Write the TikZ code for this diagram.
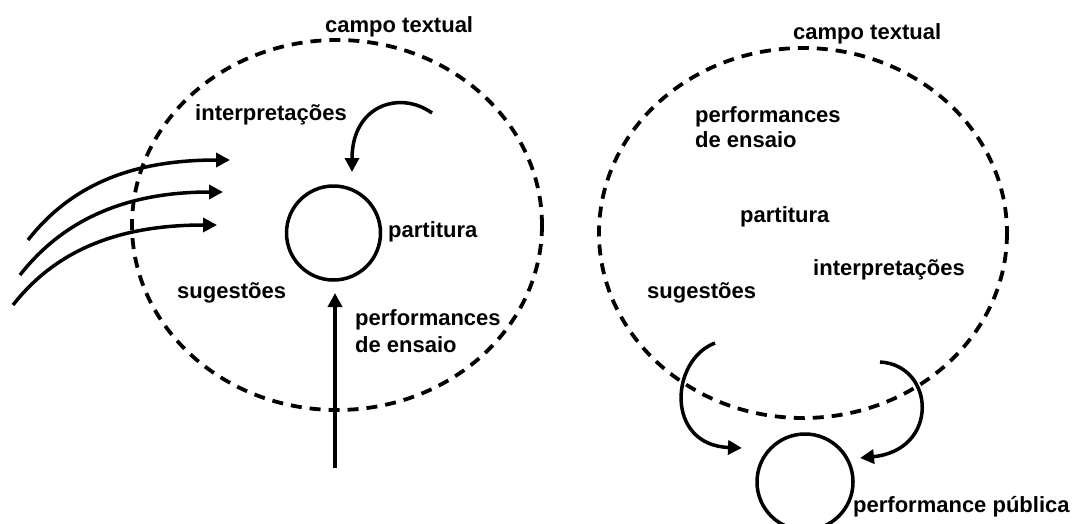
\documentclass[tikz,border=0pt]{standalone}
\usepackage{fontspec}
\setmainfont{Liberation Sans}
\usetikzlibrary{arrows.meta}
\begin{document}
\begin{tikzpicture}[x=1pt,y=-1pt,
  lbl/.style={font=\bfseries\fontsize{22}{25}\selectfont, inner sep=0pt, anchor=base west},
  field/.style={draw, line width=3.8pt, dash pattern=on 11pt off 8pt},
  ring/.style={draw, line width=3.5pt, circle, inner sep=0pt},
  flow/.style={line width=3.5pt, -{Triangle[length=14pt,width=14pt]}}]
\useasboundingbox (0,0) rectangle (1075,523);
% fields
\draw[field] (337,225) ellipse [x radius=205, y radius=185];
\draw[field] (803,233) ellipse [x radius=204, y radius=185];
% small circles
\node[ring, minimum size=94pt] (pl) at (333.5,233) {};
\node[ring, minimum size=96pt] (pr) at (805,482) {};
% labels left
\node[lbl] (ct1) at (325,32) {campo textual};
\node[lbl] (in1) at (195,120) {interpretações};
\node[lbl] (pa1) at (388,237) {partitura};
\node[lbl] (su1) at (177,298) {sugestões};
\node[lbl, anchor=north west, align=left, font=\bfseries\fontsize{22}{27}\selectfont] (pe1) at (355,309) {performances\\de ensaio};
% labels right
\node[lbl] (ct2) at (793,39) {campo textual};
\node[lbl, anchor=north west, align=left] (pe2) at (695,106) {performances\\de ensaio};
\node[lbl] (pa2) at (740,222) {partitura};
\node[lbl] (in2) at (813,275) {interpretações};
\node[lbl] (su2) at (647,298) {sugestões};
\node[lbl] (pp) at (853,512) {performance pública};
% left arrows
\coordinate (a1s) at (28,240);  \coordinate (a1e) at (230,160);
\coordinate (a2s) at (20,275);  \coordinate (a2e) at (223,192);
\coordinate (a3s) at (13,305);  \coordinate (a3e) at (217,225);
\draw[flow] (a1s) .. controls (75,180) and (140,160) .. (a1e);
\draw[flow] (a2s) .. controls (67,215) and (133,192) .. (a2e);
\draw[flow] (a3s) .. controls (60,245) and (127,225) .. (a3e);
% top curved arrow
\coordinate (ts) at (432,113); \coordinate (te) at (352,172);
\draw[flow] (ts) .. controls (400,90) and (352,105) .. (te);
% vertical arrow
\coordinate (vs) at (335,468); \coordinate (ve) at (335,293);
\draw[flow] (vs) -- (ve);
% right bottom arrows
\coordinate (ls) at (715,343); \coordinate (le) at (742,448);
\draw[flow] (ls) .. controls (670,360) and (665,445) .. (le);
\coordinate (rs) at (880,362); \coordinate (re) at (860,458);
\draw[flow] (rs) .. controls (935,365) and (940,450) .. (re);
\end{tikzpicture}
\end{document}
